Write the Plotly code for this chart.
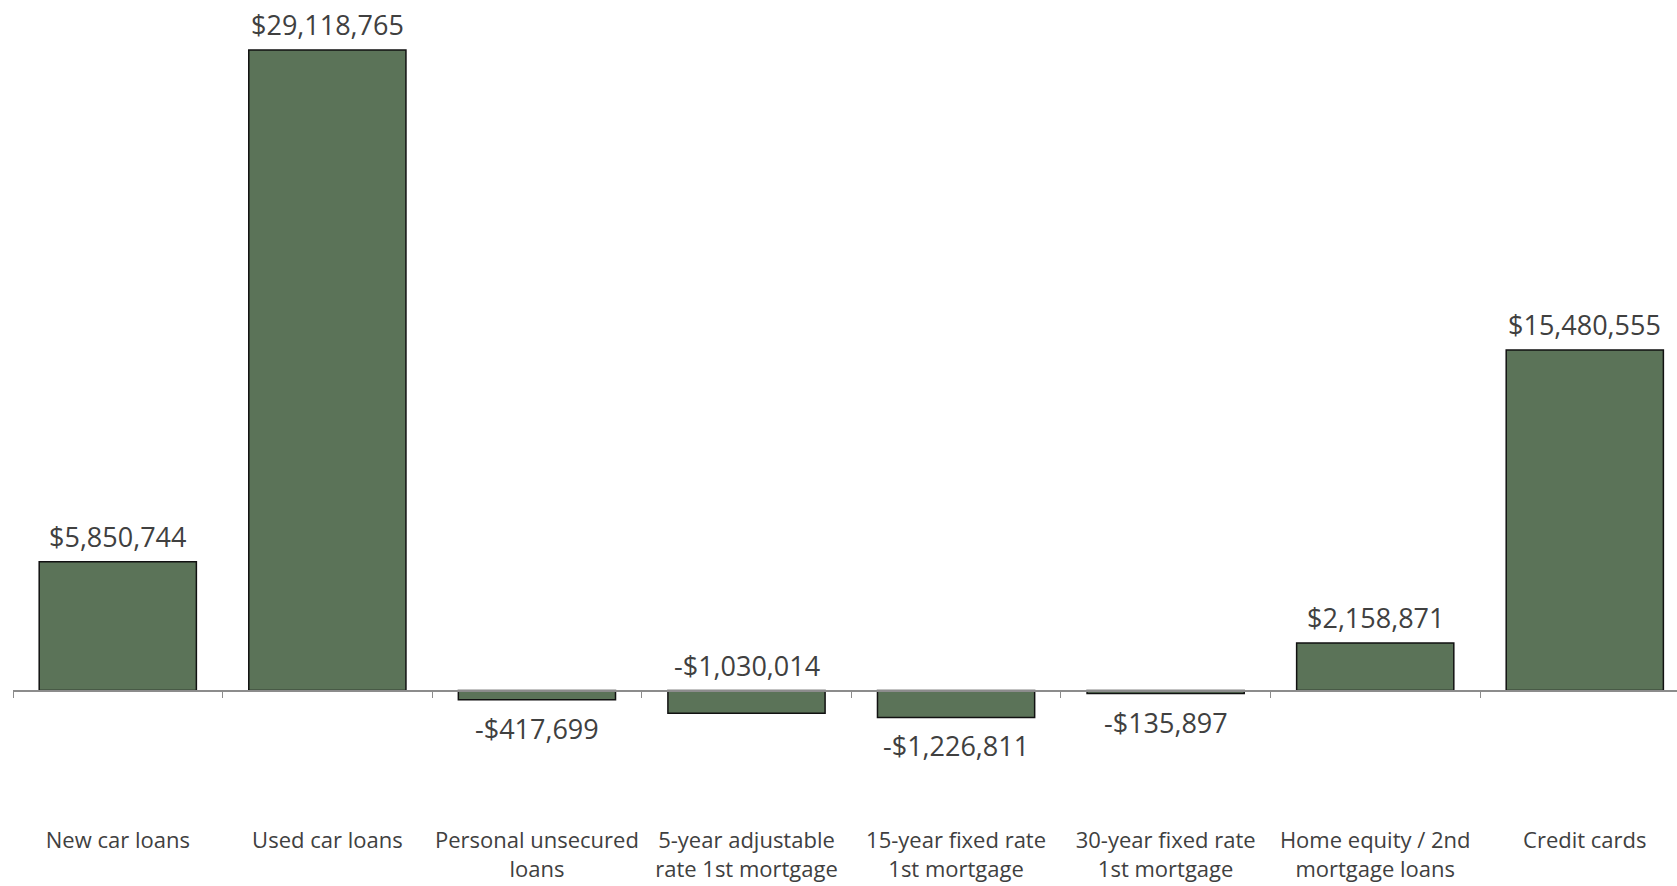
import plotly.graph_objects as go

categories = [
    "New car loans",
    "Used car loans",
    "Personal unsecured<br>loans",
    "5-year adjustable<br>rate 1st mortgage",
    "15-year fixed rate<br>1st mortgage",
    "30-year fixed rate<br>1st mortgage",
    "Home equity / 2nd<br>mortgage loans",
    "Credit cards",
]
values = [5850744, 29118765, -417699, -1030014, -1226811, -135897, 2158871, 15480555]
label_side = ["above", "above", "below", "above", "below", "below", "above", "above"]

BAR = "#5B7358"
TXT = "#404040"
AX = "#8C8C8C"
FONT = "Open Sans"

y_min, y_max = -5.887e6, 31.392e6
x_range = [-0.5, 7.44]

fig = go.Figure()
fig.add_trace(go.Bar(
    x=categories, y=values,
    marker=dict(color=BAR, line=dict(color="#111111", width=1.5)),
    width=0.75, hoverinfo="x+y", showlegend=False,
))

for c, v, s in zip(categories, values, label_side):
    txt = ("-$" if v < 0 else "$") + f"{abs(v):,}"
    if s == "above":
        fig.add_annotation(x=c, y=max(v, 0), text=txt, showarrow=False,
                           yanchor="bottom", yshift=5,
                           font=dict(family=FONT, size=27, color=TXT))
    else:
        fig.add_annotation(x=c, y=min(v, 0), text=txt, showarrow=False,
                           yanchor="top", yshift=-8,
                           font=dict(family=FONT, size=27, color=TXT))

zero_pos = (0 - y_min) / (y_max - y_min)
boundaries = [i - 0.5 for i in range(len(categories) + 1)]

fig.update_layout(
    width=1677, height=886,
    margin=dict(l=13, r=0, t=0, b=66),
    paper_bgcolor="white", plot_bgcolor="white",
    font=dict(family=FONT, color=TXT),
    bargap=0.25,
    xaxis=dict(
        type="category", range=x_range, showline=False, showgrid=False,
        zeroline=False, ticks="", tickfont=dict(family=FONT, size=22, color=TXT),
        ticklabelstandoff=5,
    ),
    xaxis2=dict(
        overlaying="x", anchor="free", position=zero_pos, side="bottom",
        range=x_range, showline=True, linecolor=AX, linewidth=1.5,
        ticks="outside", ticklen=7, tickwidth=1.2, tickcolor=AX,
        tickvals=boundaries, showticklabels=False, showgrid=False, zeroline=False,
    ),
    yaxis=dict(range=[y_min, y_max], visible=False, showgrid=False, zeroline=False),
)
# invisible trace so that the zero-line axis is drawn
fig.add_trace(go.Scatter(x=[boundaries[0]], y=[0], xaxis="x2", mode="markers",
                         marker=dict(opacity=0), hoverinfo="skip", showlegend=False))

fig.write_html("out.html")
